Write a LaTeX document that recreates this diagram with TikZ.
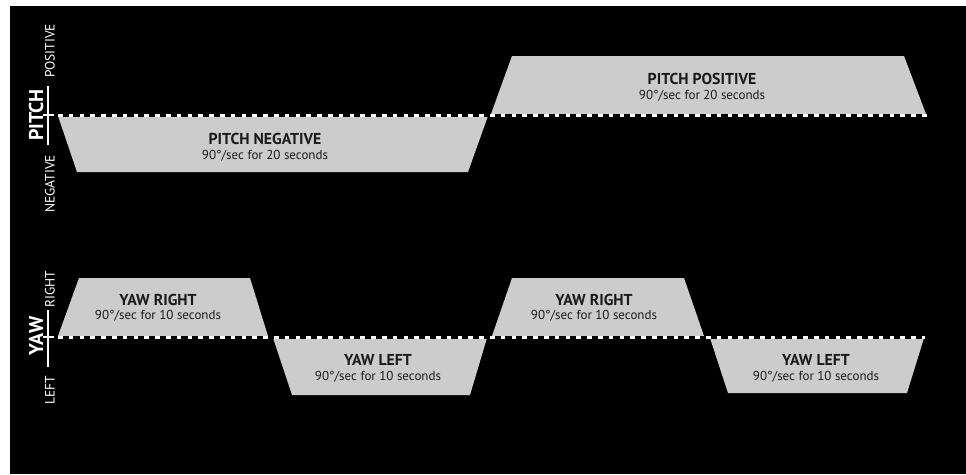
\documentclass[tikz,border=0pt]{standalone}
\usepackage{fontspec}
\setmainfont{PT Sans}
\definecolor{panelgray}{HTML}{CCCCCC}
\definecolor{ink}{HTML}{1A1A1A}
\begin{document}
\begin{tikzpicture}[x=1pt,y=-1pt,
  trap/.style={fill=panelgray,draw=none},
  ttl/.style={text=ink,font=\bfseries\fontsize{15.8}{16}\selectfont,inner sep=0pt},
  sub/.style={text=ink,font=\fontsize{13}{13}\selectfont,inner sep=0pt},
  axtitle/.style={text=white,font=\bfseries\fontsize{20}{20}\selectfont,rotate=90,inner sep=0pt},
  axlbl/.style={text=white,font=\fontsize{13.5}{14}\selectfont,rotate=90,inner sep=0pt},
  axline/.style={white,line width=1.2pt},
  base/.style={black,line width=3pt},
  dashes/.style={white,line width=3pt,dash pattern=on 4.6pt off 6.2pt}]
\useasboundingbox (0,0) rectangle (966,474);
\fill[white] (0,0) rectangle (966,474);
\fill[black] (10,6) rectangle (966,474);

% pitch shapes
\fill[trap] (58,116) -- (488,116) -- (468,172) -- (77,172) -- cycle;
\fill[trap] (512,56) -- (904,56) -- (926,114) -- (491,114) -- cycle;
% yaw shapes
\fill[trap] (79,278) -- (250,278) -- (268,336) -- (58,336) -- cycle;
\fill[trap] (273,338) -- (487,338) -- (470,395) -- (292,395) -- cycle;
\fill[trap] (512,278) -- (684,278) -- (704,336) -- (492,336) -- cycle;
\fill[trap] (710,338) -- (924,338) -- (907,393) -- (728,393) -- cycle;

% dashed baselines
\coordinate (pa) at (58,115);
\coordinate (pb) at (928,115);
\coordinate (ya) at (58,337);
\coordinate (yb) at (925,337);
\draw[base] (pa) -- (pb);
\draw[dashes] (pa) -- (pb);
\draw[base] (ya) -- (yb);
\draw[dashes] (ya) -- (yb);

% texts
\node[ttl] (pnt) at (265,139) {PITCH NEGATIVE};
\node[sub] (pns) at (265,156) {90°/sec for 20 seconds};
\node[ttl] (ppt) at (702,79) {PITCH POSITIVE};
\node[sub] (pps) at (702,96) {90°/sec for 20 seconds};
\node[ttl] (yr1t) at (158,300) {YAW RIGHT};
\node[sub] (yr1s) at (158,316) {90°/sec for 10 seconds};
\node[ttl] (yl1t) at (378,360) {YAW LEFT};
\node[sub] (yl1s) at (378,377) {90°/sec for 10 seconds};
\node[ttl] (yr2t) at (594,300) {YAW RIGHT};
\node[sub] (yr2s) at (594,316) {90°/sec for 10 seconds};
\node[ttl] (yl2t) at (816,360) {YAW LEFT};
\node[sub] (yl2s) at (816,377) {90°/sec for 10 seconds};

% pitch axis
\node[axtitle] (pitch) at (36,115) {PITCH};
\node[axlbl] (pos) at (50,51) {POSITIVE};
\node[axlbl] (neg) at (50,184) {NEGATIVE};
\coordinate (pt1) at (48,86);
\coordinate (pt2) at (48,145);
\coordinate (pl) at (43,115);
\coordinate (pr) at (54,115);
\draw[axline] (pt1) -- (pt2);
\draw[white,line width=2.4pt] (pl) -- (pr);

% yaw axis
\node[axtitle] (yaw) at (36,336) {YAW};
\node[axlbl] (right) at (50,289) {RIGHT};
\node[axlbl] (left) at (50,390) {LEFT};
\coordinate (yt1) at (48,310);
\coordinate (yt2) at (48,367);
\coordinate (yl) at (43,337);
\coordinate (yr) at (54,337);
\draw[axline] (yt1) -- (yt2);
\draw[white,line width=2.4pt] (yl) -- (yr);
\end{tikzpicture}
\end{document}
